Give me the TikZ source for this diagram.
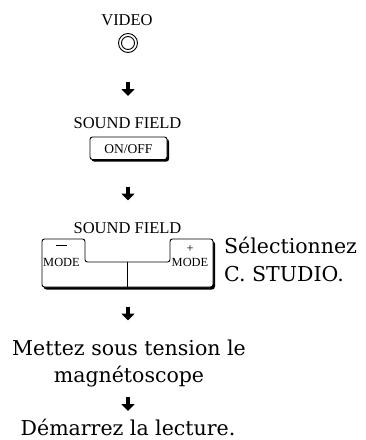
\documentclass[tikz,border=0pt]{standalone}
\usepackage{fontspec}
\setmainfont{Liberation Serif}
\newfontfamily\bigserif{DejaVu Serif}
\usetikzlibrary{arrows.meta}
\tikzset{
  lbl/.style={inner sep=0pt, anchor=base, font=\fontsize{16.5}{18}\selectfont},
  btn/.style={inner sep=0pt, anchor=base, font=\fontsize{13.5}{15}\selectfont},
  small/.style={inner sep=0pt, anchor=base, font=\fontsize{12.4}{13}\selectfont},
  txt/.style={inner sep=0pt, anchor=base, font=\bigserif\fontsize{20.5}{22}\selectfont},
  downarrow/.style={line width=4.2pt, -{Triangle[width=13pt,length=7pt]}},
  outline/.style={line width=0.9pt, rounded corners=2.5pt},
}
\begin{document}
\begin{tikzpicture}[x=1pt,y=-1pt]
\useasboundingbox (0,0) rectangle (366,440);
% VIDEO
\node[lbl] (video) at (127,25) {VIDEO};
\node[circle, draw, line width=0.9pt, minimum size=19pt, inner sep=0pt] (vbtn) at (128,43) {};
\node[circle, draw, line width=0.9pt, minimum size=13pt, inner sep=0pt] (vbtnin) at (128,43) {};
% arrow 1
\coordinate (a1s) at (128,82);
\coordinate (a1e) at (128,96);
\draw[downarrow] (a1s) -- (a1e);
% SOUND FIELD ON/OFF
\node[lbl] (sf1) at (127.5,128) {SOUND FIELD};
\fill[rounded corners=2.5pt] (91.5,139) rectangle (169,161.5);
\fill[white, rounded corners=2.5pt] (90,137) rectangle (167,159.5);
\draw[outline] (90,137) rectangle (167,159.5);
\node[btn] (onoff) at (128.5,153.5) {ON/OFF};
% arrow 2
\coordinate (a2s) at (128,186.5);
\coordinate (a2e) at (128,200.5);
\draw[downarrow] (a2s) -- (a2e);
% SOUND FIELD MODE panel
\node[lbl] (sf2) at (127.5,233) {SOUND FIELD};
\fill[rounded corners=3pt] (43.5,241) rectangle (215,289.5);
\fill[white, rounded corners=3pt] (42,239) rectangle (213,287);
\draw[outline] (42,239) -- (85,239) -- (85,262) -- (170,262) -- (170,239)
   -- (213,239) -- (213,287) -- (42,287) -- cycle;
\draw[line width=0.9pt] (127.5,262) -- (127.5,287);
\node[small] (minus) at (61.5,249) {\rule[3pt]{11pt}{0.7pt}};
\node[small] (model) at (61.5,266) {MODE};
\node[small] (plus) at (190,252) {+};
\node[small] (moder) at (190,266) {MODE};
\node[txt, anchor=base west] (sel1) at (224,253) {Sélectionnez};
\node[txt, anchor=base west] (sel2) at (224,281) {C. STUDIO.};
% arrow 3
\coordinate (a3s) at (128,306.5);
\coordinate (a3e) at (128,320.5);
\draw[downarrow] (a3s) -- (a3e);
% Mettez sous tension
\node[txt] (met1) at (129,355) {Mettez sous tension le};
\node[txt] (met2) at (129,382) {magnétoscope};
% arrow 4
\coordinate (a4s) at (128,397);
\coordinate (a4e) at (128,411);
\draw[downarrow] (a4s) -- (a4e);
\node[txt] (dem) at (128,435) {Démarrez la lecture.};
\end{tikzpicture}
\end{document}
